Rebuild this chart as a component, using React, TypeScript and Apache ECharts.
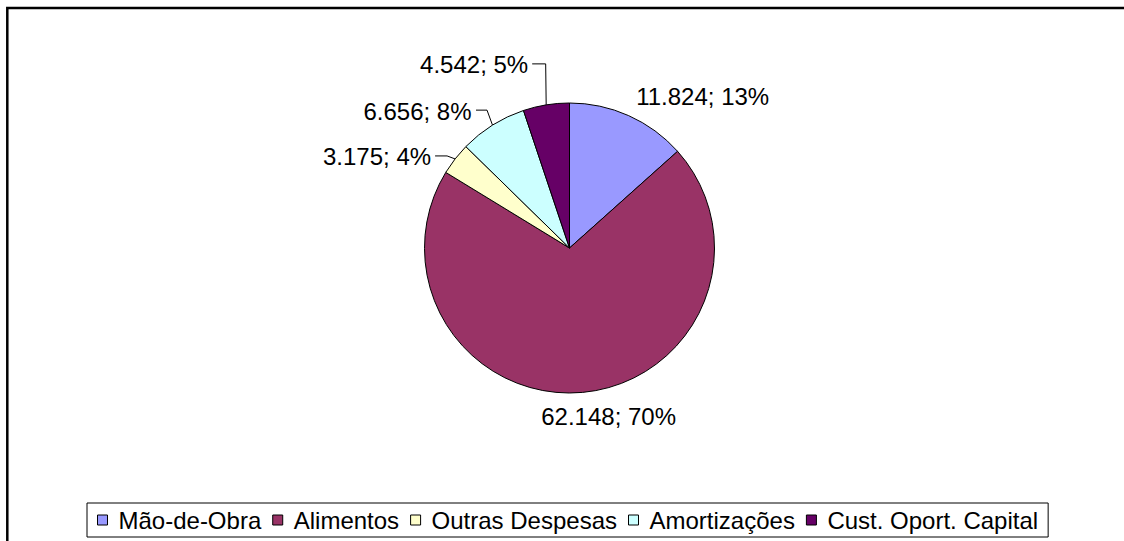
import React, { useEffect, useRef } from "react";
import * as echarts from "echarts";

const categories = ["Mão-de-Obra", "Alimentos", "Outras Despesas", "Amortizações", "Cust. Oport. Capital"];
const values = [11824, 62148, 3175, 6656, 4542];
const colors = ["#9999FF", "#993366", "#FFFFCC", "#CCFFFF", "#660066"];

// label placement relative to the slice's outer-edge midpoint (layout only)
type Place = { text: [number, number]; align: string; line?: [number, number][] };
const labelPlacement: Place[] = [
  { text: [74, -19], align: "center" },
  { text: [26, 24], align: "center" },
  { text: [-24, -2], align: "right", line: [[-8, -3], [-20, -3]] },
  { text: [-21, -14], align: "right", line: [[-5.5, -15], [-16.5, -15]] },
  { text: [-18, -40], align: "right", line: [[-0.5, -41], [-14, -41]] },
];

const CX = 569.5;
const CY = 248;
const R = 145;
const FONT = "'Liberation Sans', Arial, sans-serif";
const FS = 24;

function fmtThousands(v: number): string {
  return String(v).replace(/\B(?=(\d{3})+(?!\d))/g, ".");
}

export default function App() {
  const ref = useRef<HTMLDivElement>(null);
  useEffect(() => {
    if (!ref.current) return;
    const chart = echarts.init(ref.current, undefined, { renderer: "svg" });
    const total = values.reduce((a, b) => a + b, 0);
    // edge midpoints computed from the data
    const edges: [number, number][] = [];
    let cum = 0;
    values.forEach((v) => {
      const mid = (cum + v / 2) / total;
      cum += v;
      const ang = mid * 2 * Math.PI;
      edges.push([CX + R * Math.sin(ang), CY - R * Math.cos(ang)]);
    });

    chart.setOption({
      animation: false,
      backgroundColor: "#fff",
      graphic: [
        {
          type: "rect",
          shape: { x: 7.3, y: 8, width: 1200, height: 600 },
          style: { fill: "none", stroke: "#000", lineWidth: 2.5 },
          silent: true,
        },
      ],
      legend: {
        data: categories,
        left: 87,
        top: 503,
        orient: "horizontal",
        icon: "rect",
        itemWidth: 10,
        itemHeight: 10,
        itemGap: 11,
        borderColor: "#000",
        borderWidth: 1,
        padding: [5, 10, 5, 10],
        itemStyle: { borderColor: "#000", borderWidth: 1 },
        textStyle: { color: "#000", fontSize: FS, fontFamily: FONT, padding: [0, 0, 0, 6], lineHeight: 24 },
        selectedMode: false,
      },
      series: [
        {
          type: "pie",
          center: [CX, CY],
          radius: R,
          startAngle: 90,
          clockwise: true,
          avoidLabelOverlap: false,
          silent: true,
          emphasis: { disabled: true },
          itemStyle: { borderColor: "#000", borderWidth: 1 },
          label: {
            show: true,
            position: "outside",
            color: "#000",
            fontSize: FS,
            fontFamily: FONT,
            formatter: (p: any) => `${fmtThousands(p.value)}; ${Math.round((p.value / total) * 100)}%`,
          },
          labelLine: { show: true, lineStyle: { color: "#000", width: 1 }, smooth: false },
          labelLayout: (params: any) => {
            const i = params.dataIndex;
            const pl = labelPlacement[i];
            const e = edges[i];
            const res: any = {
              x: e[0] + pl.text[0],
              y: e[1] + pl.text[1],
              align: pl.align,
              verticalAlign: "middle",
            };
            if (pl.line) {
              res.labelLinePoints = [e, ...pl.line.map((o) => [e[0] + o[0], e[1] + o[1]])];
            }
            return res;
          },
          data: categories.map((name, i) => ({
            name,
            value: values[i],
            itemStyle: { color: colors[i] },
            labelLine: { show: !!labelPlacement[i].line },
          })),
        },
      ],
    });
    return () => chart.dispose();
  }, []);
  return <div ref={ref} style={{ position: "absolute", left: 0, top: 0, width: 1124, height: 541 }} />;
}
